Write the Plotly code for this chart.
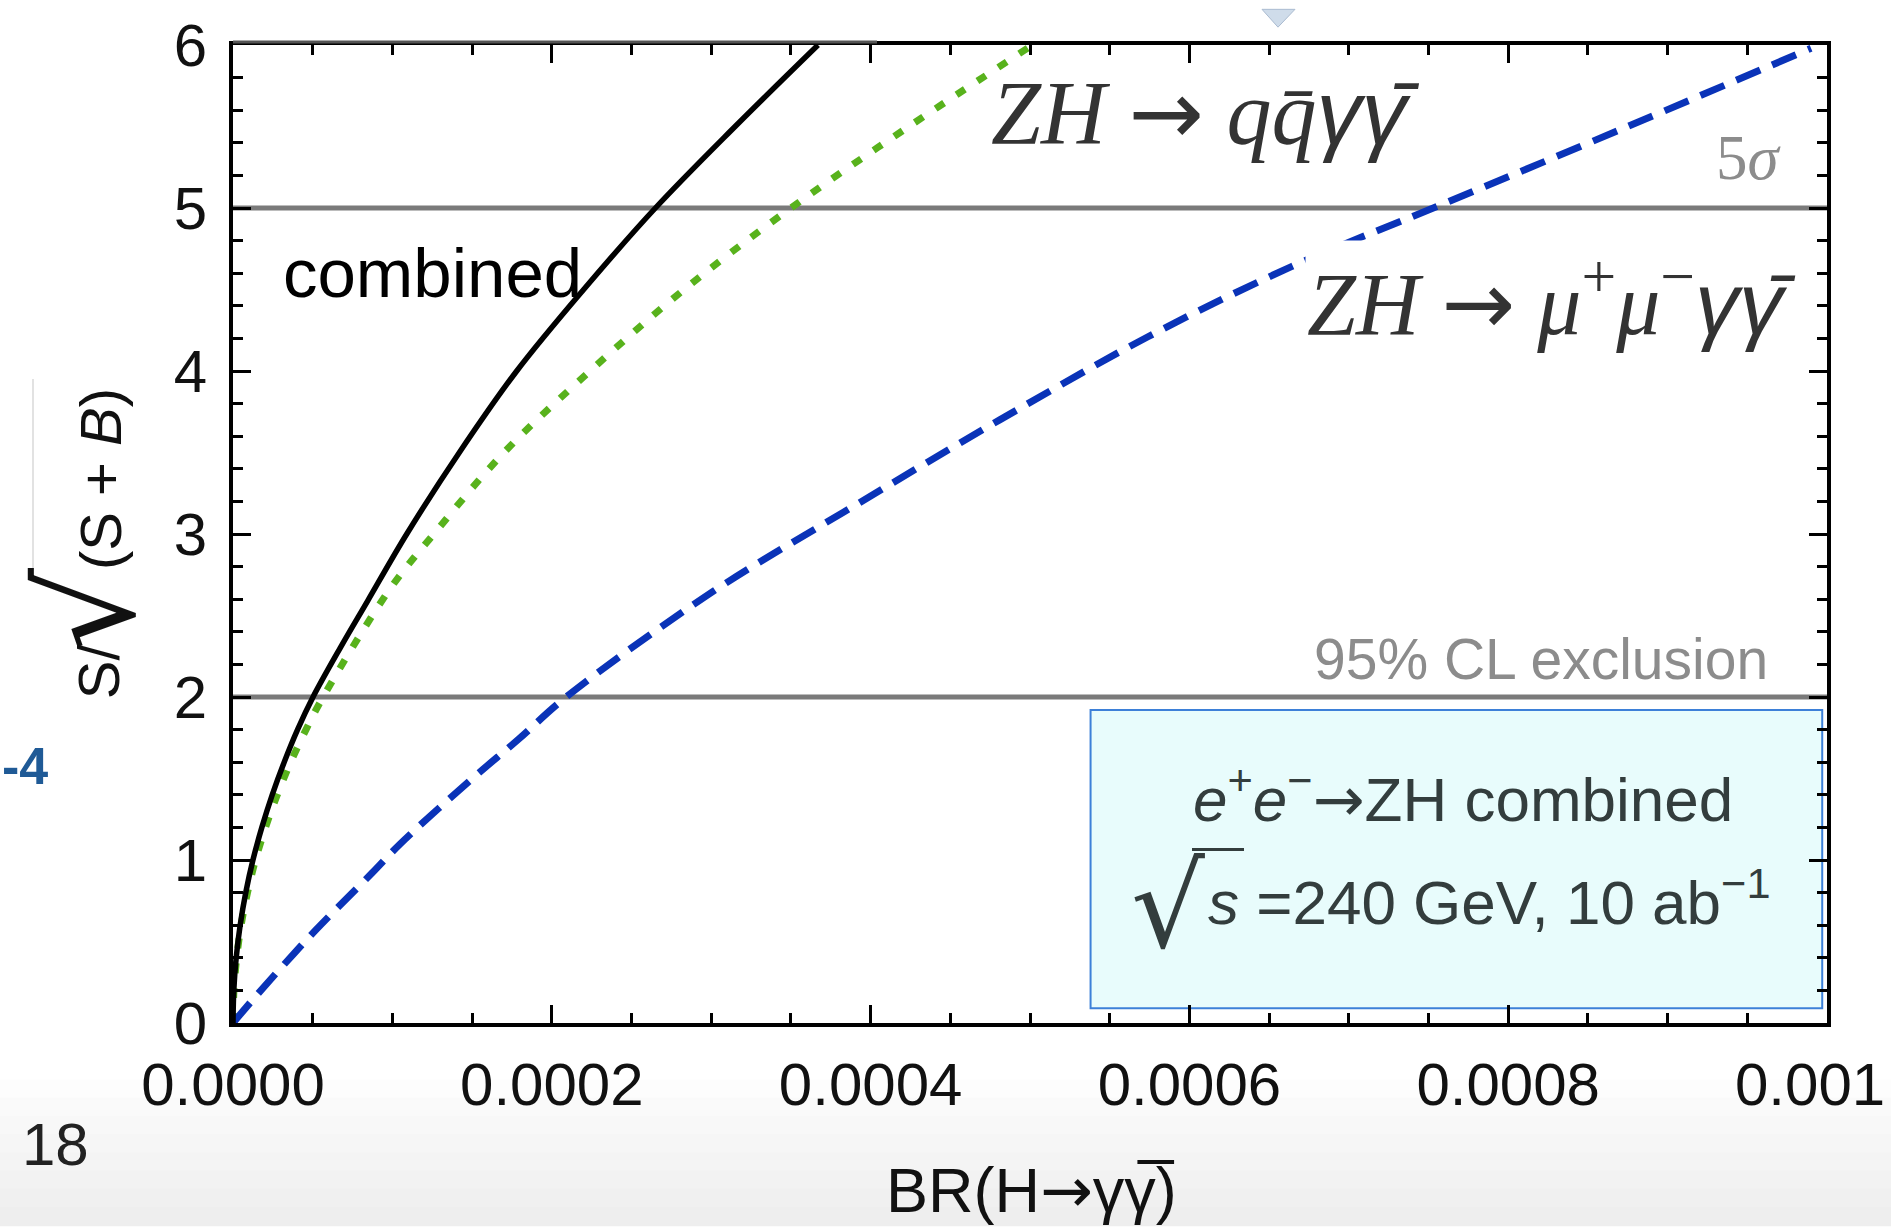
import plotly.graph_objects as go

# ---------------- data ----------------
br_combined = [0, 0.0000005, 0.0000020, 0.0000045, 0.0000080, 0.0000125, 0.0000181,
               0.0000246, 0.0000321, 0.0000405, 0.0000502, 0.0000672, 0.0000845,
               0.000109, 0.000142, 0.000178, 0.000220, 0.000265, 0.000315, 0.000367]
sig_combined = [0, 0.2, 0.4, 0.6, 0.8, 1.0, 1.2, 1.4, 1.6, 1.8, 2.0, 2.3, 2.59,
                3.0, 3.5, 4.0, 4.5, 5.0, 5.5, 6.0]

br_qq = [0, 0.0000006, 0.0000023, 0.0000051, 0.0000091, 0.0000141, 0.0000204,
         0.0000278, 0.0000362, 0.0000458, 0.0000565, 0.0000990,
         0.000126, 0.000170, 0.000224, 0.000283, 0.000350, 0.000424, 0.000500]
sig_qq = [0, 0.2, 0.4, 0.6, 0.8, 1.0, 1.2, 1.4, 1.6, 1.8, 2.0, 2.67,
          3.0, 3.5, 4.0, 4.5, 5.0, 5.5, 5.99]

br_mumu = [0, 0.0000157, 0.0000514, 0.0000872, 0.000105, 0.000149, 0.000179,
           0.000209, 0.000300, 0.000391, 0.000481, 0.000574, 0.000664, 0.000753,
           0.000875, 0.000990]
sig_mumu = [0, 0.18, 0.565, 0.92, 1.10, 1.49, 1.74, 2.0, 2.64, 3.18, 3.70, 4.21,
            4.64, 5.0, 5.50, 5.98]

x_tickvals = [0, 0.0002, 0.0004, 0.0006, 0.0008, 0.0010]
x_ticktext = ["0.0000", "0.0002", "0.0004", "0.0006", "0.0008", ""]
x_last_label = "0.001"       # last label, cut by the slide edge
y_tickvals = [0, 1, 2, 3, 4, 5, 6]
threshold_levels = [5, 2]          # 5 sigma, 95% CL exclusion
x_range = [0, 0.001]
y_range = [0, 6]

# ---------------- layout helpers ----------------
W, H = 1891, 1227
L, R, T, B = 233, 1827, 36, 1023


def px(x):
    return (x - L) / (R - L)


def py(y):
    return (B - y) / (B - T)


FONT = "Liberation Sans, Arial, sans-serif"
SERIF = "Liberation Serif, DejaVu Serif, serif"
ARROW = "<span style='font-family:DejaVu Sans'>→</span>"
GAM = "<span style='font-family:Liberation Sans'>γ</span>"
GBAR = "<span style='font-family:Liberation Sans'>γ\u0304</span>"

fig = go.Figure()

# "combined" label drawn under the curves
fig.add_trace(go.Scatter(
    x=[x_range[0] + (283 - L) / (R - L) * (x_range[1] - x_range[0])],
    y=[4.56], mode="text", text=["combined"], textposition="middle right",
    textfont=dict(family=FONT, size=69, color="#000000"),
    showlegend=False, hoverinfo="skip"))

fig.add_trace(go.Scatter(
    x=br_qq, y=sig_qq, mode="lines", name="ZH → qq̄γγ̄",
    line=dict(color="#58b21c", width=7, dash="10px,15px", shape="spline", smoothing=1.0),
    showlegend=False))

fig.add_trace(go.Scatter(
    x=br_mumu, y=sig_mumu, mode="lines", name="ZH → μ+μ−γγ̄",
    line=dict(color="#0a33b8", width=7, dash="26px,13px", shape="spline", smoothing=1.0),
    showlegend=False))

fig.add_trace(go.Scatter(
    x=br_combined, y=sig_combined, mode="lines", name="combined",
    line=dict(color="#000000", width=5.5, shape="spline", smoothing=1.0),
    showlegend=False))

shapes = []
# threshold lines
for lv in threshold_levels:
    shapes.append(dict(type="line", xref="x", yref="y", x0=x_range[0], x1=x_range[1],
                       y0=lv, y1=lv, line=dict(color="#7a7a7a", width=5), layer="below"))

# info box
shapes.append(dict(type="rect", xref="x", yref="y", x0=0.000538, x1=0.000997,
                   y0=0.09, y1=1.92, fillcolor="#e8fcfc",
                   line=dict(color="#3d80d8", width=2), layer="below"))

# extra thick segment on the top frame
shapes.append(dict(type="line", xref="x", yref="paper", x0=0, x1=0.000404,
                   y0=1 + 3 / (B - T), y1=1 + 3 / (B - T),
                   line=dict(color="#555555", width=3)))

# vinculum of the sqrt in the box
shapes.append(dict(type="line", xref="paper", yref="paper",
                   x0=px(1192), x1=px(1244), y0=py(848), y1=py(848),
                   line=dict(color="#333d3d", width=3)))

# vinculum of the y-title sqrt
shapes.append(dict(type="line", xref="paper", yref="paper",
                   x0=px(33), x1=px(33), y0=py(566), y1=py(373),
                   line=dict(color="#d8d8d8", width=1.5)))

# slide bottom gradient
grad = ["#fdfdfd", "#fafafa", "#f8f8f8", "#f6f6f6", "#f4f4f4", "#f2f2f2", "#f0f0f0", "#eeeeee"]
y_start, y_end = 1080, 1227
step = (y_end - y_start) / len(grad)
for i, c in enumerate(grad):
    shapes.append(dict(type="rect", xref="paper", yref="paper",
                       x0=px(0), x1=px(W), y0=py(y_start + i * step),
                       y1=py(y_start + (i + 1) * step + 1),
                       fillcolor=c, line=dict(width=0), layer="below"))

# little artifact at the top of the slide
shapes.append(dict(type="path", xref="paper", yref="paper",
                   path=f"M {px(1262)} {py(0)} L {px(1295)} {py(0)} L {px(1278)} {py(18)} Z",
                   fillcolor="#cfdcea", line=dict(color="#aabbd0", width=1)))

annotations = [
    dict(text=f"<i>ZH</i> {ARROW} <i>qq\u0304{GAM}{GBAR}</i>",
         x=px(1205), y=py(104), font=dict(family=SERIF, size=90, color="#333333")),
    dict(text=f"<i>ZH</i> {ARROW} <i>μ</i><sup>+</sup><i>μ</i><sup>−</sup><i>{GAM}{GBAR}</i>",
         x=px(1551), y=py(292), font=dict(family=SERIF, size=88, color="#333333"),
         bgcolor="#ffffff"),
    dict(text="5<i>σ</i>", x=px(1749), y=py(150),
         font=dict(family=SERIF, size=63, color="#8c8c8c")),
    dict(text="95% CL exclusion", x=px(1541), y=py(656),
         font=dict(family=FONT, size=57, color="#8c8c8c")),
    dict(text=f"<i>e</i><sup>+</sup><i>e</i><sup>−</sup>{ARROW}ZH combined",
         x=px(1463), y=py(794), font=dict(family=FONT, size=62, color="#333d3d")),
    dict(text="√", x=px(1168), y=py(905),
         font=dict(family="DejaVu Sans", size=116, color="#333d3d")),
    dict(text="<i>s</i> =240 GeV, 10 ab<sup>−1</sup>", x=px(1206), y=py(897),
         xanchor="left", font=dict(family=FONT, size=62, color="#333d3d")),
    dict(text=x_last_label, x=px(1733), y=py(1085), xanchor="left",
         font=dict(family=FONT, size=60, color="#111111")),
    dict(text=f"BR(H{ARROW}γγ\u0305)", x=px(1031), y=py(1192),
         font=dict(family=FONT, size=63, color="#111111")),
    dict(text="S/", x=px(98), y=py(668), textangle=-90,
         font=dict(family=FONT, size=58, color="#111111")),
    dict(text="√", x=px(88), y=py(606), textangle=-90,
         font=dict(family="DejaVu Sans", size=130, color="#111111")),
    dict(text="(S + <i>B</i>)", x=px(100), y=py(474), textangle=-90,
         font=dict(family=FONT, size=58, color="#111111")),
    dict(text="<b>-4</b>", x=px(50), y=py(764), xanchor="right",
         font=dict(family=FONT, size=52, color="#1f5a96")),
    dict(text="18", x=px(55), y=py(1146),
         font=dict(family=FONT, size=60, color="#222222")),
]
for a in annotations:
    a.setdefault("xref", "paper")
    a.setdefault("yref", "paper")
    a.setdefault("xanchor", "center")
    a.setdefault("yanchor", "middle")
    a["showarrow"] = False

axis_common = dict(
    showline=True, linecolor="#000000", linewidth=4, mirror="allticks",
    ticks="inside", ticklen=18, tickwidth=3, tickcolor="#000000",
    showgrid=False, zeroline=False,
    tickfont=dict(family=FONT, size=60, color="#111111"),
)

fig.update_layout(
    width=W, height=H,
    margin=dict(l=L, r=W - R, t=T, b=H - B),
    paper_bgcolor="#ffffff", plot_bgcolor="#ffffff",
    shapes=shapes, annotations=annotations,
    xaxis=dict(range=x_range, tickvals=x_tickvals, ticktext=x_ticktext,
               ticklabelstandoff=6,
               minor=dict(dtick=0.00005, ticks="inside", ticklen=10, tickwidth=2.5,
                          tickcolor="#000000", showgrid=False),
               **axis_common),
    yaxis=dict(range=y_range, tickvals=y_tickvals, ticklabelstandoff=10,
               minor=dict(dtick=0.2, ticks="inside", ticklen=10, tickwidth=2.5,
                          tickcolor="#000000", showgrid=False),
               **axis_common),
    showlegend=False,
)

fig.write_html("out.html")
